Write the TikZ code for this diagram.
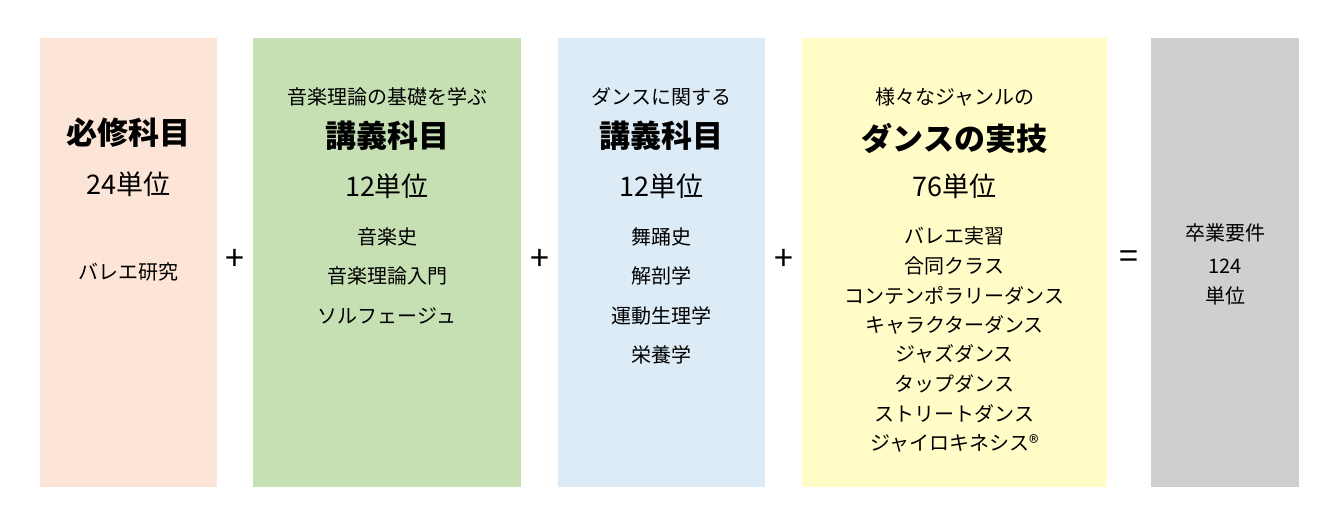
\documentclass[tikz,border=0pt]{standalone}
\usepackage{fontspec}
\setmainfont{Noto Sans CJK JP}
\newfontfamily\jpb{Noto Sans CJK JP}[BoldFont={* Bold}]
\definecolor{cA}{HTML}{FCE4D6}
\definecolor{cB}{HTML}{C6E0B4}
\definecolor{cC}{HTML}{DDEBF7}
\definecolor{cD}{HTML}{FFFCC8}
\definecolor{cE}{HTML}{D0CECE}
\begin{document}
\begin{tikzpicture}[x=1pt,y=-1pt,
  sm/.style={font=\fontsize{20}{22}\selectfont},
  tt/.style={font=\fontsize{31}{34}\selectfont\bfseries},
  un/.style={font=\fontsize{27}{30}\selectfont},
  op/.style={font=\fontsize{34}{36}\selectfont}]
\useasboundingbox (0,0) rectangle (1340,524);
\fill[cA] (40,38) rectangle (217,487);
\fill[cB] (253,38) rectangle (521,487);
\fill[cC] (558,38) rectangle (765,487);
\fill[cD] (802,38) rectangle (1107,487);
\fill[cE] (1151,38) rectangle (1299,487);
% box1
\node[tt] (a1) at (128.5,133) {必修科目};
\node[un] (a2) at (128.5,184) {24単位};
\node[sm] (a3) at (128.5,272) {バレエ研究};
% box2
\node[sm] (b0) at (387,97) {音楽理論の基礎を学ぶ};
\node[tt] (b1) at (387,136) {講義科目};
\node[un] (b2) at (387,186) {12単位};
\node[sm] (b3) at (387,237) {音楽史};
\node[sm] (b4) at (387,276) {音楽理論入門};
\node[sm] (b5) at (387,316) {ソルフェージュ};
% box3
\node[sm] (c0) at (661.5,97) {ダンスに関する};
\node[tt] (c1) at (661.5,136) {講義科目};
\node[un] (c2) at (661.5,186) {12単位};
\node[sm] (c3) at (661.5,237) {舞踊史};
\node[sm] (c4) at (661.5,276) {解剖学};
\node[sm] (c5) at (661.5,316) {運動生理学};
\node[sm] (c6) at (661.5,355) {栄養学};
% box4
\node[sm] (d0) at (954.5,97) {様々なジャンルの};
\node[tt] (d1) at (954.5,138) {ダンスの実技};
\node[un] (d2) at (954.5,186) {76単位};
\foreach \t [count=\i] in {バレエ実習,合同クラス,コンテンポラリーダンス,キャラクターダンス,ジャズダンス,タップダンス,ストリートダンス,ジャイロキネシス®}
  \node[sm] (d\i x) at (954.5,{236+29.6*(\i-1)}) {\t};
% box5
\node[sm] (e1) at (1225,233) {卒業要件};
\node[sm] (e2) at (1225,266) {124};
\node[sm] (e3) at (1225,296) {単位};
% operators
\node[op] (p1) at (235,260) {+};
\node[op] (p2) at (540,260) {+};
\node[op] (p3) at (784,260) {+};
\node[op] (q1) at (1129,260) {=};
\end{tikzpicture}
\end{document}
